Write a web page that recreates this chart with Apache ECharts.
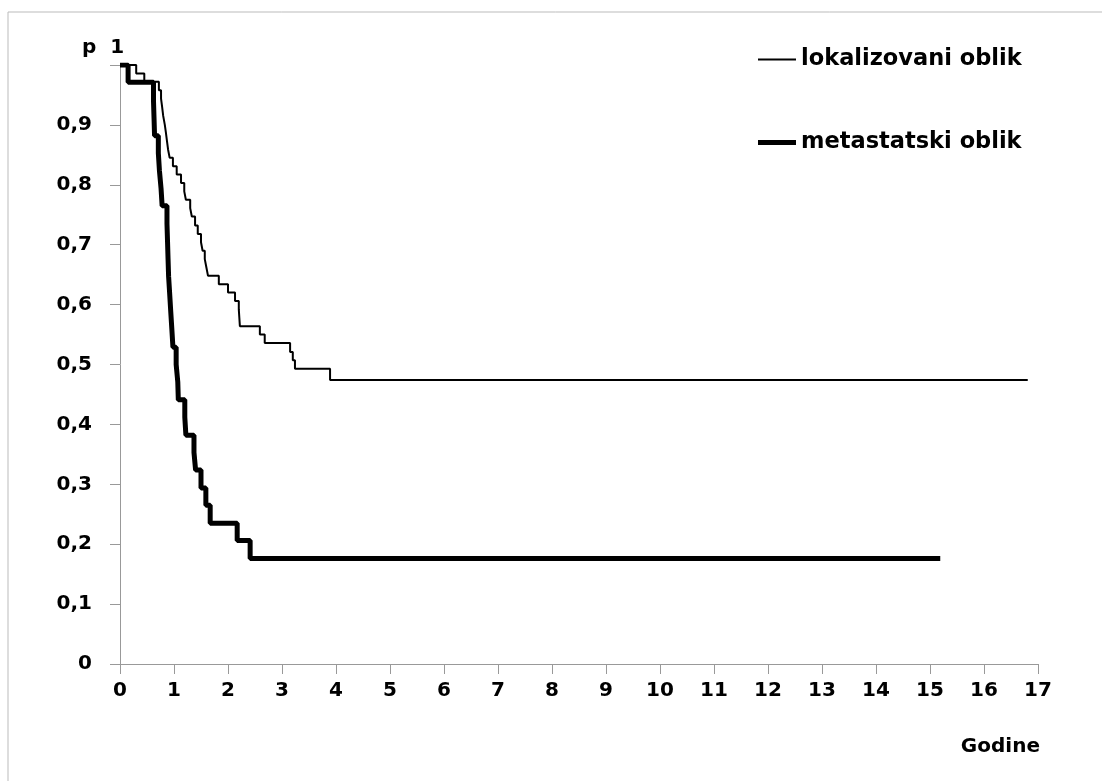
<!DOCTYPE html>
<html>
<head>
<meta charset="utf-8">
<script src="https://cdn.jsdelivr.net/npm/echarts@6/dist/echarts.min.js"></script>
<style>
  html, body { margin: 0; padding: 0; background: #fff; }
  #chart { width: 1102px; height: 781px; }
</style>
</head>
<body>
<div id="chart"></div>
<script>
// Kaplan-Meier estimates: [years, p]
var lokalizovaniTime = [0, 0.3, 0.45, 0.72, 0.76, 0.78, 0.8, 0.83, 0.85, 0.87, 0.89, 0.92, 0.98, 1.05, 1.13, 1.19, 1.22, 1.3, 1.33, 1.39, 1.44, 1.5, 1.53, 1.57, 1.6, 1.63, 1.83, 2.0, 2.13, 2.2, 2.21, 2.22, 2.59, 2.68, 3.15, 3.2, 3.24, 3.89, 16.81];
var lokalizovaniP = [1, 0.986, 0.972, 0.958, 0.944, 0.93, 0.915, 0.9, 0.887, 0.873, 0.859, 0.845, 0.831, 0.817, 0.803, 0.789, 0.775, 0.761, 0.747, 0.732, 0.718, 0.704, 0.69, 0.676, 0.662, 0.648, 0.634, 0.62, 0.606, 0.592, 0.578, 0.564, 0.55, 0.536, 0.521, 0.507, 0.493, 0.474, 0.474];

var metastatskiTime = [0, 0.15, 0.62, 0.63, 0.64, 0.71, 0.73, 0.76, 0.78, 0.87, 0.88, 0.89, 0.9, 0.92, 0.94, 0.96, 0.98, 1.04, 1.07, 1.08, 1.2, 1.22, 1.37, 1.4, 1.5, 1.59, 1.67, 2.17, 2.41, 15.19];
var metastatskiP = [1, 0.971, 0.941, 0.912, 0.882, 0.853, 0.824, 0.794, 0.765, 0.735, 0.706, 0.676, 0.647, 0.618, 0.588, 0.559, 0.529, 0.5, 0.471, 0.441, 0.412, 0.382, 0.353, 0.324, 0.294, 0.265, 0.235, 0.206, 0.176, 0.176];

var seriesNames = ['lokalizovani oblik', 'metastatski oblik'];

function pairs(t, p) {
  return t.map(function (v, i) { return [v, p[i]]; });
}

var font = 'DejaVu Sans';
var legendText = { fontFamily: font, fontWeight: 'bold', fontSize: 22.5, color: '#000' };
var chart = echarts.init(document.getElementById('chart'));

chart.setOption({
  animation: false,
  backgroundColor: '#fff',
  grid: { left: 120, right: 64, top: 65, bottom: 117 },
  legend: [
    { left: 753, top: 43, icon: 'rect', itemWidth: 38, itemHeight: 2, itemGap: 4, textStyle: legendText, data: [seriesNames[0]] },
    { left: 753, top: 126, icon: 'rect', itemWidth: 38, itemHeight: 5, itemGap: 4, textStyle: legendText, data: [seriesNames[1]] }
  ],
  xAxis: {
    type: 'value',
    min: 0,
    max: 17,
    interval: 1,
    axisLine: { lineStyle: { color: '#999', width: 1 } },
    axisTick: { show: true, length: 10, lineStyle: { color: '#999' } },
    axisLabel: { fontFamily: font, fontWeight: 'bold', fontSize: 20, color: '#000', margin: 17 },
    splitLine: { show: false }
  },
  yAxis: {
    type: 'value',
    min: 0,
    max: 1,
    interval: 0.1,
    axisLine: { show: true, lineStyle: { color: '#999', width: 1 } },
    axisTick: { show: true, length: 10, lineStyle: { color: '#999' } },
    axisLabel: {
      fontFamily: font, fontWeight: 'bold', fontSize: 20, color: '#000', margin: 28,
      formatter: function (v) { return v === 1 ? '' : String(Math.round(v * 10) / 10).replace('.', ','); }
    },
    splitLine: { show: false }
  },
  graphic: [
    { type: 'rect', shape: { x: 8, y: 12, width: 1200, height: 900 }, style: { fill: 'none', stroke: '#bbb', lineWidth: 1 }, silent: true },
    { type: 'text', left: 82, top: 38, style: { text: 'p  1', font: 'bold 20px "DejaVu Sans"', fill: '#000' } },
    { type: 'text', right: 62, top: 737, style: { text: 'Godine', font: 'bold 20px "DejaVu Sans"', fill: '#000' } }
  ],
  series: [
    {
      name: seriesNames[0],
      type: 'line',
      step: 'end',
      symbol: 'none',
      data: pairs(lokalizovaniTime, lokalizovaniP),
      lineStyle: { color: '#000', width: 2 },
      itemStyle: { color: '#000' }
    },
    {
      name: seriesNames[1],
      type: 'line',
      step: 'end',
      symbol: 'none',
      data: pairs(metastatskiTime, metastatskiP),
      lineStyle: { color: '#000', width: 5 },
      itemStyle: { color: '#000' }
    }
  ]
});
</script>
</body>
</html>
